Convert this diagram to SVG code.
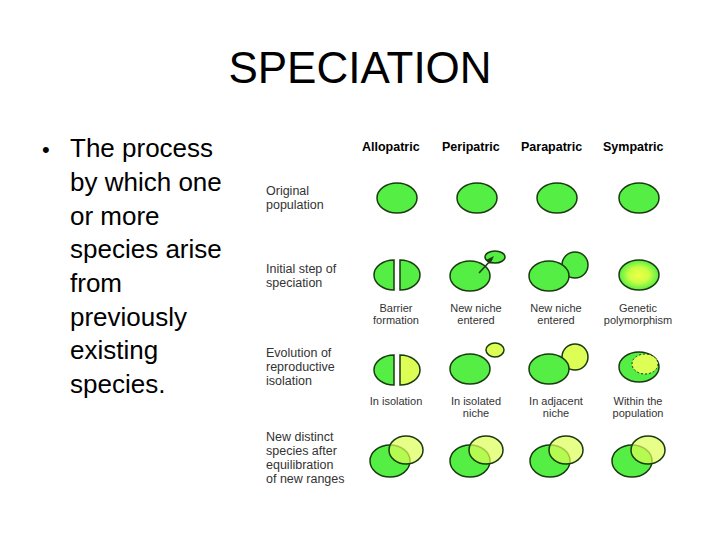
<svg xmlns="http://www.w3.org/2000/svg" width="720" height="540" viewBox="0 0 720 540">
<defs>
<radialGradient id="poly"><stop offset="0" stop-color="#eeff44"/><stop offset="0.5" stop-color="#ccff44"/><stop offset="1" stop-color="#55ee44"/></radialGradient>
</defs>
<style>
.t{font-family:"Liberation Sans",Arial,sans-serif;fill:#000}
.h{font-size:12.5px;font-weight:bold}
.l{font-size:12.5px;fill:#333}
.c{font-size:11px;fill:#333;text-anchor:middle}
.g{fill:#55ee44;stroke:#1a3a10;stroke-width:1.5}
.y{fill:#ddff55;stroke:#1a3a10;stroke-width:1.5}
</style>
<rect width="720" height="540" fill="#fff"/>
<text class="t" x="360" y="83" font-size="44" text-anchor="middle">SPECIATION</text>
<g class="t" font-size="26">
<text x="42" y="157" font-size="22">•</text>
<text x="70" y="157">The process</text>
<text x="70" y="191">by which one</text>
<text x="70" y="225">or more</text>
<text x="70" y="258">species arise</text>
<text x="70" y="292">from</text>
<text x="70" y="326">previously</text>
<text x="70" y="359">existing</text>
<text x="70" y="393">species.</text>
</g>
<g id="headers" class="t h">
<text x="362" y="151">Allopatric</text><text x="442" y="151">Peripatric</text><text x="521" y="151">Parapatric</text><text x="603" y="151">Sympatric</text>
</g>
<g id="rowlabels" class="t l">
<text x="266" y="195">Original</text><text x="266" y="209">population</text>
<text x="266" y="273">Initial step of</text><text x="266" y="287">speciation</text>
<text x="266" y="357">Evolution of</text><text x="266" y="371">reproductive</text><text x="266" y="385">isolation</text>
<text x="266" y="441">New distinct</text><text x="266" y="455">species after</text><text x="266" y="469">equilibration</text><text x="266" y="483">of new ranges</text>
</g>
<g id="row1">
<ellipse class="g" cx="397" cy="198" rx="20" ry="15"/><ellipse class="g" cx="477" cy="198" rx="20" ry="15"/>
<ellipse class="g" cx="557" cy="198" rx="20" ry="15"/><ellipse class="g" cx="639" cy="198" rx="20" ry="15"/>
</g>
<g id="row2">
<path class="g" d="M394 260 A20 15 0 0 0 394 290 Z"/><path class="g" d="M400 260 A20 15 0 0 1 400 290 Z"/>
<ellipse class="g" cx="495" cy="257" rx="10" ry="6"/><ellipse class="g" cx="470" cy="276" rx="20" ry="15"/>
<line x1="479" y1="273" x2="492" y2="259" stroke="#1a3a10" stroke-width="1.5"/><path d="M494 256 L486 260 L490 264 Z" fill="#1a3a10"/>
<circle class="g" cx="575" cy="265" r="13"/><ellipse class="g" cx="549" cy="276" rx="20" ry="15"/>
<ellipse fill="url(#poly)" stroke="#1a3a10" stroke-width="1.5" cx="639" cy="275" rx="20" ry="15"/>
</g>
<g id="row2labels" class="t c">
<text x="396" y="312">Barrier</text><text x="396" y="324">formation</text>
<text x="476" y="312">New niche</text><text x="476" y="324">entered</text>
<text x="556" y="312">New niche</text><text x="556" y="324">entered</text>
<text x="638" y="312">Genetic</text><text x="638" y="324">polymorphism</text>
</g>
<g id="row3">
<path class="g" d="M394 355 A20 15 0 0 0 394 385 Z"/><path class="y" d="M400 355 A20 15 0 0 1 400 385 Z"/>
<ellipse class="y" cx="495" cy="350" rx="9" ry="7"/><ellipse class="g" cx="470" cy="369" rx="20" ry="15"/>
<circle class="y" cx="575" cy="357" r="13"/><ellipse class="g" cx="549" cy="369" rx="20" ry="15"/>
<ellipse class="g" cx="639" cy="367" rx="20" ry="15"/>
<ellipse fill="#ddff55" stroke="#1a3a10" stroke-width="1" stroke-dasharray="2 2" cx="645" cy="364" rx="13" ry="10"/>
</g>
<g id="row3labels" class="t c">
<text x="396" y="405">In isolation</text>
<text x="476" y="405">In isolated</text><text x="476" y="417">niche</text>
<text x="556" y="405">In adjacent</text><text x="556" y="417">niche</text>
<text x="638" y="405">Within the</text><text x="638" y="417">population</text>
</g>
<g id="row4">
<ellipse class="g" cx="390" cy="461" rx="20" ry="16"/><ellipse class="y" cx="406" cy="450" rx="17" ry="14" fill-opacity="0.7"/>
<ellipse class="g" cx="470" cy="461" rx="20" ry="16"/><ellipse class="y" cx="486" cy="450" rx="17" ry="14" fill-opacity="0.7"/>
<ellipse class="g" cx="550" cy="461" rx="20" ry="16"/><ellipse class="y" cx="566" cy="450" rx="17" ry="14" fill-opacity="0.7"/>
<ellipse class="g" cx="632" cy="461" rx="20" ry="16"/><ellipse class="y" cx="648" cy="450" rx="17" ry="14" fill-opacity="0.7"/>
</g>
</svg>
